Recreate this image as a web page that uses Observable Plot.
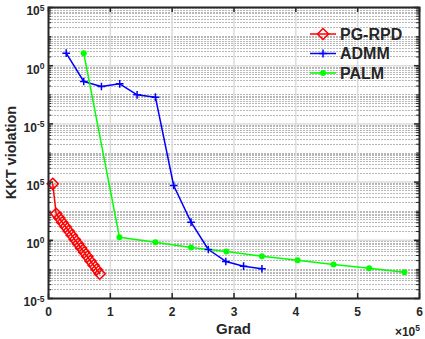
<!DOCTYPE html>
<html><head><meta charset="utf-8">
<script src="https://cdn.jsdelivr.net/npm/d3@7"></script>
<script src="https://cdn.jsdelivr.net/npm/@observablehq/plot@0.6"></script>
<style>
html,body{margin:0;padding:0;background:#fff;}
#chart{width:425px;height:339px;}
</style></head><body><div id="chart"></div>
<script>
const seriesNames = ["PG-RPD", "ADMM", "PALM"];
const seriesColors = ["#ff0000", "#0000ff", "#00ff00"];

const pgGrad = [6900, 12400, 17400, 22400, 27500, 32500, 37600, 42600, 47700, 52700, 57700, 62800, 67800, 72900, 77900, 82900];
const pgKKT  = [0.0871, 8.13e-3, 5.79e-3, 4.13e-3, 2.94e-3, 2.09e-3, 1.49e-3, 1.06e-3, 7.59e-4, 5.41e-4, 3.85e-4, 2.75e-4, 1.95e-4, 1.39e-4, 9.93e-5, 7.08e-5];

const admmGrad = [28600, 57000, 85600, 115200, 143300, 172900, 202400, 230500, 258500, 286800, 315500, 345200];
const admmKKT  = [2690, 286, 193, 239, 100, 82.8, 0.0764, 0.00419, 4.83e-4, 1.87e-4, 1.29e-4, 1.05e-4];

const palmGrad = [57000, 114700, 172900, 230500, 287600, 345200, 402800, 460900, 518600, 575600];
const palmKKT  = [2690, 1.28e-3, 8.61e-4, 5.66e-4, 4.12e-4, 2.84e-4, 2.07e-4, 1.47e-4, 1.10e-4, 8.02e-5];

const xTicks = [0, 100000, 200000, 300000, 400000, 500000, 600000];
const xTickLabels = ["0", "1", "2", "3", "4", "5", "6"];
const yTicks = [1e-5, 1e-3, 1e-1, 1e1, 1e3, 1e5];
const yTickLabels = ["10^-5", "10^0", "10^5", "10^-5", "10^0", "10^5"];

const W = 425, H = 339, mL = 48, mR = 6, mT = 7, mB = 41;
const pw = W - mL - mR, ph = H - mT - mB;

const rows = [];
[[pgGrad, pgKKT], [admmGrad, admmKKT], [palmGrad, palmKKT]].forEach(([gx, gy], s) => {
  gx.forEach((g, i) => rows.push({series: seriesNames[s], grad: g, kkt: gy[i]}));
});
const bySeries = s => rows.filter(r => r.series === s);

// minor log gridline positions (non-labelled)
const yMinor = [];
for (let e = -5; e < 5; e++) for (let m = 1; m < 10; m++) {
  const v = +(m * Math.pow(10, e)).toPrecision(6);
  if (!yTicks.some(t => Math.abs(t - v) / v < 1e-9)) yMinor.push(v);
}
const xGrid = xTicks.slice(1, -1);
const axisColor = "#262626";

const marks = [
  Plot.ruleY(yMinor, {stroke: "#b8b8b8", strokeDasharray: "2,1", shapeRendering: "crispEdges"}),
  Plot.ruleY(yTicks, {stroke: "#dcdcdc", strokeWidth: 1.5}),
  Plot.ruleX(xGrid, {stroke: "#dcdcdc", strokeWidth: 1.5}),
  // inward ticks
  Plot.ruleX(xTicks, {stroke: axisColor, strokeWidth: 1.5, insetTop: ph - 5}),
  Plot.ruleX(xTicks, {stroke: axisColor, strokeWidth: 1.5, insetBottom: ph - 5}),
  Plot.ruleY(yTicks, {stroke: axisColor, strokeWidth: 1.5, insetRight: pw - 5}),
  Plot.ruleY(yTicks, {stroke: axisColor, strokeWidth: 1.5, insetLeft: pw - 5}),
  Plot.ruleY(yMinor, {stroke: axisColor, strokeWidth: 1, insetRight: pw - 3}),
  Plot.ruleY(yMinor, {stroke: axisColor, strokeWidth: 1, insetLeft: pw - 3}),
];
seriesNames.forEach((s, i) => {
  marks.push(Plot.line(bySeries(s), {x: "grad", y: "kkt", stroke: seriesColors[i], strokeWidth: 1.5}));
});
marks.push(Plot.dot(bySeries("PG-RPD"), {x: "grad", y: "kkt", symbol: "diamond2", r: 5, stroke: seriesColors[0], strokeWidth: 1.5, fill: "none"}));
marks.push(Plot.dot(bySeries("ADMM"), {x: "grad", y: "kkt", symbol: "plus", r: 2.6, stroke: seriesColors[1], strokeWidth: 1.5}));
marks.push(Plot.dot(bySeries("PALM"), {x: "grad", y: "kkt", symbol: "circle", r: 3, fill: seriesColors[2], stroke: "none"}));
marks.push(Plot.frame({stroke: axisColor, strokeWidth: 2}));
marks.push(Plot.axisX({ticks: xTicks, tickFormat: d => xTickLabels[xTicks.indexOf(d)], tickSize: 0, tickPadding: 9, fontSize: 12, fontWeight: "bold", label: null}));
marks.push(Plot.axisY({ticks: yTicks, tickFormat: d => yTickLabels[yTicks.indexOf(d)], tickSize: 0, tickPadding: 4, dy: 4, fontSize: 12, fontWeight: "bold", label: null}));

const chart = Plot.plot({
  width: W, height: H,
  marginLeft: mL, marginRight: mR, marginTop: mT, marginBottom: mB,
  x: {domain: [0, 600000]},
  y: {type: "log", domain: [1e-5, 1e5]},
  style: {fontFamily: "'Liberation Sans', Arial, sans-serif", fontWeight: "bold", color: axisColor, background: "#fff"},
  marks
});
document.getElementById("chart").appendChild(chart);

const svg = d3.select(chart);
// superscripts for tick labels
svg.selectAll("text").each(function() {
  const t = d3.select(this);
  const s = this.textContent;
  if (s.includes("^")) {
    const [b, e] = s.split("^");
    t.text(null);
    t.append("tspan").text(b);
    t.append("tspan").attr("dy", "-0.55em").attr("font-size", "8.5px").text(e);
  }
});

const txt = (x, y, s) => svg.append("text").attr("x", x).attr("y", y)
  .attr("fill", axisColor).attr("font-weight", "bold").attr("text-anchor", "start")
  .attr("font-family", "'Liberation Sans', Arial, sans-serif").text(s);

txt(mL + pw / 2, 334, "Grad").attr("font-size", 15).attr("text-anchor", "middle");
txt(0, 0, "KKT violation").attr("font-size", 14.5).attr("text-anchor", "middle")
  .attr("transform", `translate(16,${mT + ph / 2}) rotate(-90)`);
const mult = txt(W - 5, 336, "").attr("font-size", 12).attr("text-anchor", "end");
mult.append("tspan").text("\u00d710");
mult.append("tspan").attr("dy", "-0.55em").attr("font-size", "8.5px").text("5");

// legend
const lg = svg.append("g");
const legY = [34, 53.5, 73];
seriesNames.forEach((s, i) => {
  const y = legY[i];
  lg.append("line").attr("x1", 310).attr("x2", 336).attr("y1", y).attr("y2", y)
    .attr("stroke", seriesColors[i]).attr("stroke-width", 1.5);
  const sym = d3.symbol().type(i === 0 ? d3.symbolDiamond2 : i === 1 ? d3.symbolPlus : d3.symbolCircle)
    .size(i === 0 ? 78 : i === 1 ? 22 : 28);
  lg.append("path").attr("d", sym()).attr("transform", `translate(323,${y})`)
    .attr("fill", i === 2 ? seriesColors[i] : "none")
    .attr("stroke", i === 2 ? "none" : seriesColors[i]).attr("stroke-width", 1.5);
  txt(340, y + 5.5, s).attr("font-size", 16);
});
</script></body></html>
